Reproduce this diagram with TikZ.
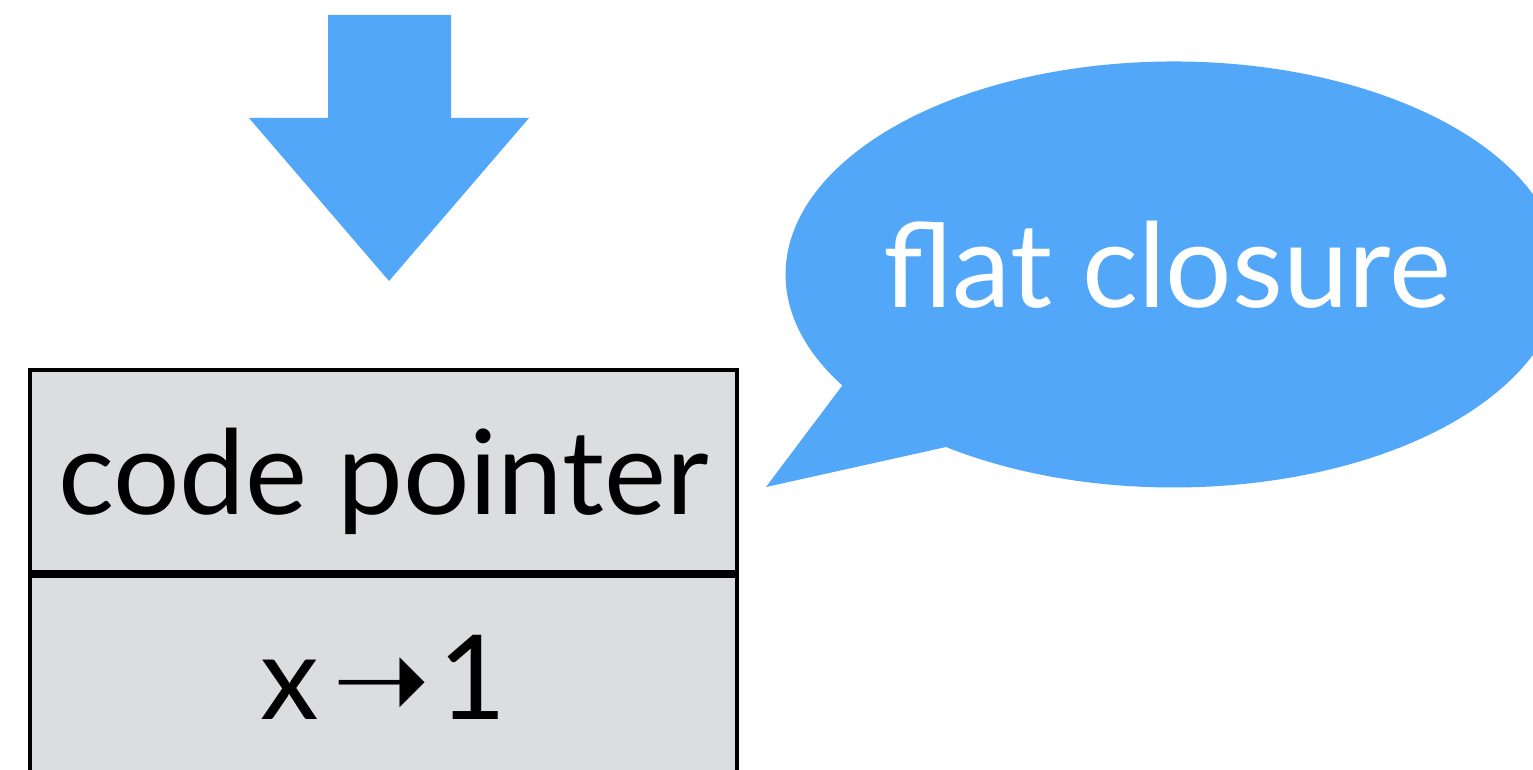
\documentclass[tikz,border=0pt]{standalone}
\usepackage{fontspec}
\setmainfont{Lato}
\newfontfamily\symfont{DejaVu Sans}
\usetikzlibrary{positioning}
\definecolor{bubbleblue}{RGB}{82,167,249}
\definecolor{cellgray}{RGB}{220,221,224}
\tikzset{every picture/.style={line width=0.75pt}}
\tikzset{bigtext/.style={font=\fontsize{88}{100}\selectfont}}
\tikzset{cell/.style={draw=black, line width=3pt, fill=cellgray, minimum width=530.25pt, minimum height=151.5pt, inner sep=0pt, text depth=0pt, bigtext}}

\begin{document}
\begin{tikzpicture}[x=0.75pt,y=0.75pt,yscale=-1,xscale=1]
\useasboundingbox (0,0) rectangle (1533,770);
\clip (0,0) rectangle (1533,770);

%Shape: Down Arrow [id:dp_down]
\fill [bubbleblue] (328,15) -- (451,15) -- (451,118) -- (529,118) -- (389,281) -- (249,118) -- (328,118) -- cycle ;

%Shape: Rectangle [id:dp_codeptr]
\node [cell] (codeptr) at (383.5,471) {code pointer};
%Shape: Rectangle [id:dp_binding]
\node [cell, below=0pt of codeptr] (binding) {x\kern10pt{\symfont ➝}\kern6pt 1};

%Shape: Speech Bubble [id:dp_bubble]
\fill [bubbleblue] (946,447) arc [start angle=125.9, end angle=-211.4, x radius=388, y radius=213] -- (766,487) -- cycle ;

% Text Node
\node [bigtext, text=white] (label) at (1167,265) {flat closure};

\end{tikzpicture}
\end{document}
